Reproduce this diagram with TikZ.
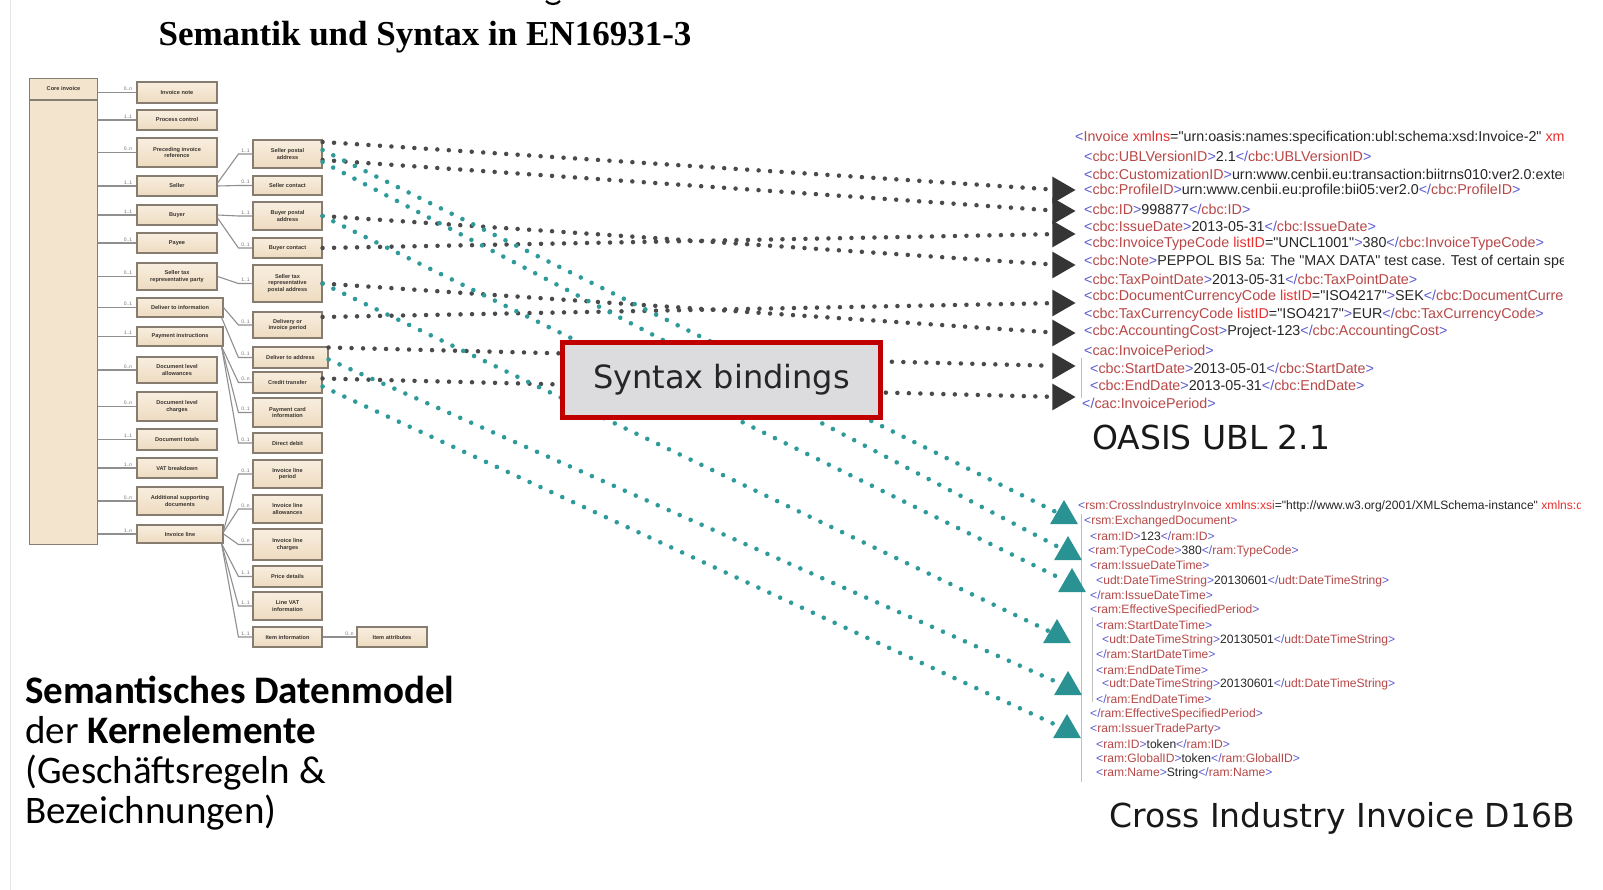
\documentclass[tikz,border=0pt]{standalone}
\usepackage{fontspec}
\setmainfont{Liberation Serif}
\newfontfamily\carl{Carlito}
\newfontfamily\dejav{DejaVu Sans}
\newfontfamily\lsans{Liberation Sans}
\usetikzlibrary{shapes.geometric}
\definecolor{tealc}{HTML}{2E9A9A}
\definecolor{tealtri}{HTML}{2A9292}
\definecolor{dotg}{HTML}{4A4A4A}
\definecolor{trig}{HTML}{353535}
\definecolor{boxtop}{HTML}{F8EEDF}
\definecolor{boxbot}{HTML}{EEDBC0}
\definecolor{boxfill}{HTML}{F3E4CD}
\definecolor{boxdraw}{HTML}{867C70}
\definecolor{boxtext}{HTML}{3A3530}
\definecolor{tlinec}{HTML}{8F8F8F}
\definecolor{xbr}{HTML}{5A5AD0}
\definecolor{xnm}{HTML}{B84848}
\definecolor{xat}{HTML}{E83030}
\definecolor{xtx}{HTML}{262626}
\definecolor{sbred}{HTML}{C00000}
\definecolor{sbfill}{HTML}{DCDCDE}
\newcommand\xop[1]{\textcolor{xbr}{<}\textcolor{xnm}{#1}\textcolor{xbr}{>}}
\newcommand\xcl[1]{\textcolor{xbr}{</}\textcolor{xnm}{#1}\textcolor{xbr}{>}}
\newcommand\xst[1]{\textcolor{xbr}{<}\textcolor{xnm}{#1}}
\newcommand\xgt{\textcolor{xbr}{>}}
\newcommand\xatt[1]{\textcolor{xat}{#1}}
\newcommand\tb[5]{\node[tbox, minimum width=#3, minimum height=#4] (#1) at #2 {#5};}
\newcommand\lk[3]{\draw[tline] #1 -- ([xshift=-14pt]#2.west) -- (#2.west) node[mult, pos=0.5, above] (m#2) {#3};}
\begin{document}
\begin{tikzpicture}[x=1pt,y=-1pt,
  tbox/.style={draw=boxdraw, line width=1.1pt, top color=boxtop, bottom color=boxbot, inner sep=1pt, align=center, font=\lsans\bfseries\fontsize{5.6}{6.4}\selectfont, text=boxtext},
  tline/.style={draw=tlinec, line width=1.1pt},
  mult/.style={font=\lsans\fontsize{5}{5.5}\selectfont, text=black!55, inner sep=1pt},
  graydot/.style={draw=dotg, line width=4.5pt, line cap=round, dash pattern=on 0pt off 11.5pt},
  tealdot/.style={draw=tealc, line width=4.6pt, line cap=round, dash pattern=on 0pt off 12pt},
  utri/.style={regular polygon, regular polygon sides=3, fill=trig, minimum size=31pt, inner sep=0pt, rotate=-90},
  ttri/.style={regular polygon, regular polygon sides=3, fill=tealtri, minimum size=32pt, inner sep=0pt},
  xmlu/.style={anchor=west, inner sep=0pt, font=\lsans\fontsize{14.3}{15}\selectfont, text=xtx},
  xmlc/.style={anchor=west, inner sep=0pt, font=\lsans\fontsize{12.1}{13}\selectfont, text=xtx},
  biglabel/.style={anchor=west, inner sep=0pt, font=\dejav\fontsize{33}{36}\selectfont, text=black!90},
  semtext/.style={anchor=base west, inner sep=0pt, font=\carl\fontsize{39}{40}\selectfont, text=black}]
\useasboundingbox (0,0) rectangle (1603,890);
\fill[white] (0,0) rectangle (1603,890);
\draw[black!10, line width=1pt] (10,0) -- (10,890);
% title
\node[font=\bfseries\fontsize{35}{40}\selectfont, inner sep=0pt] (title) at (425,37) {Semantik und Syntax in EN16931-3};
\draw[line width=2.2pt] (546,1) .. controls (549,5) and (557,5) .. (560,1);
% core invoice
\node[draw=boxdraw, line width=1.1pt, fill=boxfill, minimum width=68, minimum height=466, anchor=north west, inner sep=0pt] (core) at (29,78) {};
\draw[boxdraw, line width=1.1pt] ([yshift=-22pt]core.north west) -- ([yshift=-22pt]core.north east);
\node[font=\lsans\bfseries\fontsize{5.6}{6.4}\selectfont, text=boxtext] (coret) at ([yshift=-11pt]core.north) {Core invoice};
% column 2
\tb{inote}{(177,92.5)}{80}{21}{Invoice note}
\tb{pctrl}{(177,120)}{80}{20}{Process control}
\tb{prev}{(177,152.5)}{80}{29}{Preceding invoice\\reference}
\tb{seller}{(177,186)}{80}{20}{Seller}
\tb{buyer}{(177,215)}{80}{20}{Buyer}
\tb{payee}{(177,243)}{80}{20}{Payee}
\tb{staxp}{(177,276.5)}{80}{27}{Seller tax\\representative party}
\tb{delinfo}{(180,307.5)}{86}{19}{Deliver to information}
\tb{payinst}{(180,336.5)}{86}{19}{Payment instructions}
\tb{dlallow}{(177,370)}{80}{26}{Document level\\allowances}
\tb{dlchg}{(177,406.5)}{80}{29}{Document level\\charges}
\tb{dtotals}{(177,439.5)}{80}{21}{Document totals}
\tb{vat}{(177,468)}{80}{20}{VAT breakdown}
\tb{addsup}{(180,501)}{86}{28}{Additional supporting\\documents}
\tb{iline}{(180,534)}{86}{18}{Invoice line}
\foreach \c/\m in {inote/0..n, pctrl/1..1, prev/0..n, seller/1..1, buyer/1..1, payee/0..1, staxp/0..1, delinfo/0..1, payinst/1..1, dlallow/0..n, dlchg/0..n, dtotals/1..1, vat/1..n, addsup/0..n, iline/1..n}
  {\draw[tline] (core.east |- \c.west) -- (\c.west) node[mult, pos=0.78, above] (m\c) {\m};}
% column 3
\tb{spa}{(287.5,154)}{69}{28}{Seller postal\\address}
\tb{scon}{(287.5,185.5)}{69}{19}{Seller contact}
\tb{bpa}{(287.5,216)}{69}{28}{Buyer postal\\address}
\tb{bcon}{(287.5,248)}{69}{20}{Buyer contact}
\tb{strpa}{(287.5,283.5)}{69}{37}{Seller tax\\representative\\postal address}
\tb{dip}{(287.5,325)}{69}{26}{Delivery or\\invoice period}
\tb{dta}{(290.5,357.5)}{75}{21}{Deliver to address}
\tb{ct}{(287.5,382.5)}{69}{21}{Credit transfer}
\tb{pci}{(287.5,412.5)}{69}{29}{Payment card\\information}
\tb{dd}{(287.5,443)}{69}{20}{Direct debit}
\tb{ilp}{(287.5,474)}{69}{28}{Invoice line\\period}
\tb{ila}{(287.5,509)}{69}{28}{Invoice line\\allowances}
\tb{ilc}{(287.5,544.5)}{69}{31}{Invoice line\\charges}
\tb{pd}{(287.5,576.5)}{69}{21}{Price details}
\tb{lvat}{(287.5,606)}{69}{28}{Line VAT\\information}
\tb{ii}{(287.5,637)}{69}{20}{Item information}
\tb{ia}{(392,637)}{70}{20}{Item attributes}
\lk{([yshift=3pt]seller.east)}{spa}{1..1}
\lk{(seller.east)}{scon}{0..1}
\lk{(buyer.east)}{bpa}{1..1}
\lk{([yshift=-3pt]buyer.east)}{bcon}{0..1}
\lk{(staxp.east)}{strpa}{1..1}
\lk{(delinfo.east)}{dip}{0..1}
\lk{([xshift=-2pt]delinfo.south east)}{dta}{0..1}
\lk{([xshift=-2pt]payinst.south east)}{ct}{0..n}
\lk{([xshift=-2pt]payinst.south east)}{pci}{0..1}
\lk{([xshift=-2pt]payinst.south east)}{dd}{0..1}
\lk{([yshift=3pt]iline.east)}{ilp}{0..1}
\lk{([yshift=2pt]iline.east)}{ila}{0..n}
\lk{(iline.east)}{ilc}{0..n}
\lk{([xshift=-2pt]iline.south east)}{pd}{1..1}
\lk{([xshift=-2pt]iline.south east)}{lvat}{1..1}
\lk{([xshift=-2pt]iline.south east)}{ii}{1..1}
\lk{(ii.east)}{ia}{0..n}
% UBL XML
\begin{scope}
\clip (1040,120) rectangle (1563,415);
\draw[black!25, line width=0.8pt] (1081,358) -- (1081,398);
\node[xmlu] (l1) at (1075,138) {\xst{Invoice} \xatt{xmlns}="urn:oasis:names:specification:ubl:schema:xsd:Invoice-2" \xatt{xmlns:cac}};
\node[xmlu] (l2) at (1084,156) {\xop{cbc:UBLVersionID}2.1\xcl{cbc:UBLVersionID}};
\node[xmlu] (l3) at (1084,174) {\xop{cbc:CustomizationID}urn:www.cenbii.eu:transaction:biitrns010:ver2.0:extended};
\node[xmlu] (l4) at (1084,191) {\xop{cbc:ProfileID}urn:www.cenbii.eu:profile:bii05:ver2.0\xcl{cbc:ProfileID}};
\node[xmlu] (l5) at (1084,209) {\xop{cbc:ID}998877\xcl{cbc:ID}};
\node[xmlu] (l6) at (1084,226) {\xop{cbc:IssueDate}2013-05-31\xcl{cbc:IssueDate}};
\node[xmlu] (l7) at (1084,244) {\xst{cbc:InvoiceTypeCode} \xatt{listID}="UNCL1001"\xgt 380\xcl{cbc:InvoiceTypeCode}};
\node[xmlu] (l8) at (1084,262) {\xop{cbc:Note}PEPPOL BIS 5a: The "MAX DATA" test case. Test of certain special};
\node[xmlu] (l9) at (1084,279) {\xop{cbc:TaxPointDate}2013-05-31\xcl{cbc:TaxPointDate}};
\node[xmlu] (l10) at (1084,297) {\xst{cbc:DocumentCurrencyCode} \xatt{listID}="ISO4217"\xgt SEK\xcl{cbc:DocumentCurrencyCode}};
\node[xmlu] (l11) at (1084,315) {\xst{cbc:TaxCurrencyCode} \xatt{listID}="ISO4217"\xgt EUR\xcl{cbc:TaxCurrencyCode}};
\node[xmlu] (l12) at (1084,332) {\xop{cbc:AccountingCost}Project-123\xcl{cbc:AccountingCost}};
\node[xmlu] (l13) at (1084,350) {\xop{cac:InvoicePeriod}};
\node[xmlu] (l14) at (1090,368) {\xop{cbc:StartDate}2013-05-01\xcl{cbc:StartDate}};
\node[xmlu] (l15) at (1090,385) {\xop{cbc:EndDate}2013-05-31\xcl{cbc:EndDate}};
\node[xmlu] (l16) at (1082,403) {\xcl{cac:InvoicePeriod}};
\end{scope}
% CII XML
\begin{scope}
\clip (1040,495) rectangle (1580,782);
\draw[black!25, line width=0.8pt] (1081,514) -- (1081,782);
\draw[black!25, line width=0.8pt] (1092,617) -- (1092,702);
\node[xmlc] (c1) at (1078,506) {\xst{rsm:CrossIndustryInvoice} \xatt{xmlns:xsi}="http://www.w3.org/2001/XMLSchema-instance" \xatt{xmlns:qdt}};
\node[xmlc] (c2) at (1084,521) {\xop{rsm:ExchangedDocument}};
\node[xmlc] (c3) at (1090,536) {\xop{ram:ID}123\xcl{ram:ID}};
\node[xmlc] (c4) at (1088,551) {\xop{ram:TypeCode}380\xcl{ram:TypeCode}};
\node[xmlc] (c5) at (1090,565) {\xop{ram:IssueDateTime}};
\node[xmlc] (c6) at (1096,581) {\xop{udt:DateTimeString}20130601\xcl{udt:DateTimeString}};
\node[xmlc] (c7) at (1090,595) {\xcl{ram:IssueDateTime}};
\node[xmlc] (c8) at (1090,610) {\xop{ram:EffectiveSpecifiedPeriod}};
\node[xmlc] (c9) at (1096,625) {\xop{ram:StartDateTime}};
\node[xmlc] (c10) at (1102,640) {\xop{udt:DateTimeString}20130501\xcl{udt:DateTimeString}};
\node[xmlc] (c11) at (1096,654) {\xcl{ram:StartDateTime}};
\node[xmlc] (c12) at (1096,670) {\xop{ram:EndDateTime}};
\node[xmlc] (c13) at (1102,684) {\xop{udt:DateTimeString}20130601\xcl{udt:DateTimeString}};
\node[xmlc] (c14) at (1096,699) {\xcl{ram:EndDateTime}};
\node[xmlc] (c15) at (1090,714) {\xcl{ram:EffectiveSpecifiedPeriod}};
\node[xmlc] (c16) at (1090,729) {\xop{ram:IssuerTradeParty}};
\node[xmlc] (c17) at (1096,744) {\xop{ram:ID}token\xcl{ram:ID}};
\node[xmlc] (c18) at (1096,758) {\xop{ram:GlobalID}token\xcl{ram:GlobalID}};
\node[xmlc] (c19) at (1096,773) {\xop{ram:Name}String\xcl{ram:Name}};
\end{scope}
% arrow heads
\node[utri] (u1) at (1060,190) {};
\node[utri] (u2) at (1060,211) {};
\node[utri] (u3) at (1060,234) {};
\node[utri] (u4) at (1060,265) {};
\node[utri] (u5) at (1060,303) {};
\node[utri] (u6) at (1060,333) {};
\node[utri] (u7) at (1060,366) {};
\node[utri] (u8) at (1060,397) {};
\node[ttri] (t1) at (1064,516) {};
\node[ttri] (t2) at (1068,552) {};
\node[ttri] (t3) at (1072,584) {};
\node[ttri] (t4) at (1057,635) {};
\node[ttri] (t5) at (1068,687) {};
\node[ttri] (t6) at (1067,730) {};
% dotted bindings
\draw[graydot] ([yshift=12pt]spa.east) -- (u1);
\draw[graydot] ([yshift=-6pt]spa.east) -- (u2);
\draw[graydot] (bcon.east) -- (u3);
\draw[graydot] (bpa.east) -- (u4);
\draw[graydot] ([yshift=8pt]dip.east) -- (u5);
\draw[graydot] (strpa.east) -- (u6);
\draw[graydot] ([yshift=10pt]dta.east) -- (u7);
\draw[graydot] ([yshift=4pt]ct.east) -- (u8);
\draw[tealdot] ([yshift=4pt]spa.east) -- (t1);
\draw[tealdot] ([yshift=-8pt]spa.east) -- (t2);
\draw[tealdot] (bpa.east) -- (t3);
\draw[tealdot] (strpa.east) -- (t4);
\draw[tealdot] ([yshift=-2pt]dta.east) -- (t5);
\draw[tealdot] ([yshift=-4pt]ct.east) -- (t6);
% syntax bindings box
\node[draw=sbred, line width=5pt, fill=sbfill, minimum width=318, minimum height=75, inner sep=0pt, font=\dejav\fontsize{32}{36}\selectfont, text=black!85] (syn) at (721.5,380) {Syntax bindings};
% labels
\node[biglabel] (ubl) at (1092,437) {OASIS UBL 2.1};
\node[biglabel] (cii) at (1109,818) {Cross Industry Invoice D16B};
\node[semtext] (sd1) at (25,703) {\bfseries Semantisches Datenmodel};
\node[semtext] (sd2) at (25,743) {der \textbf{Kernelemente}};
\node[semtext] (sd3) at (25,783) {(Geschäftsregeln \&};
\node[semtext] (sd4) at (25,823) {Bezeichnungen)};
\end{tikzpicture}
\end{document}
